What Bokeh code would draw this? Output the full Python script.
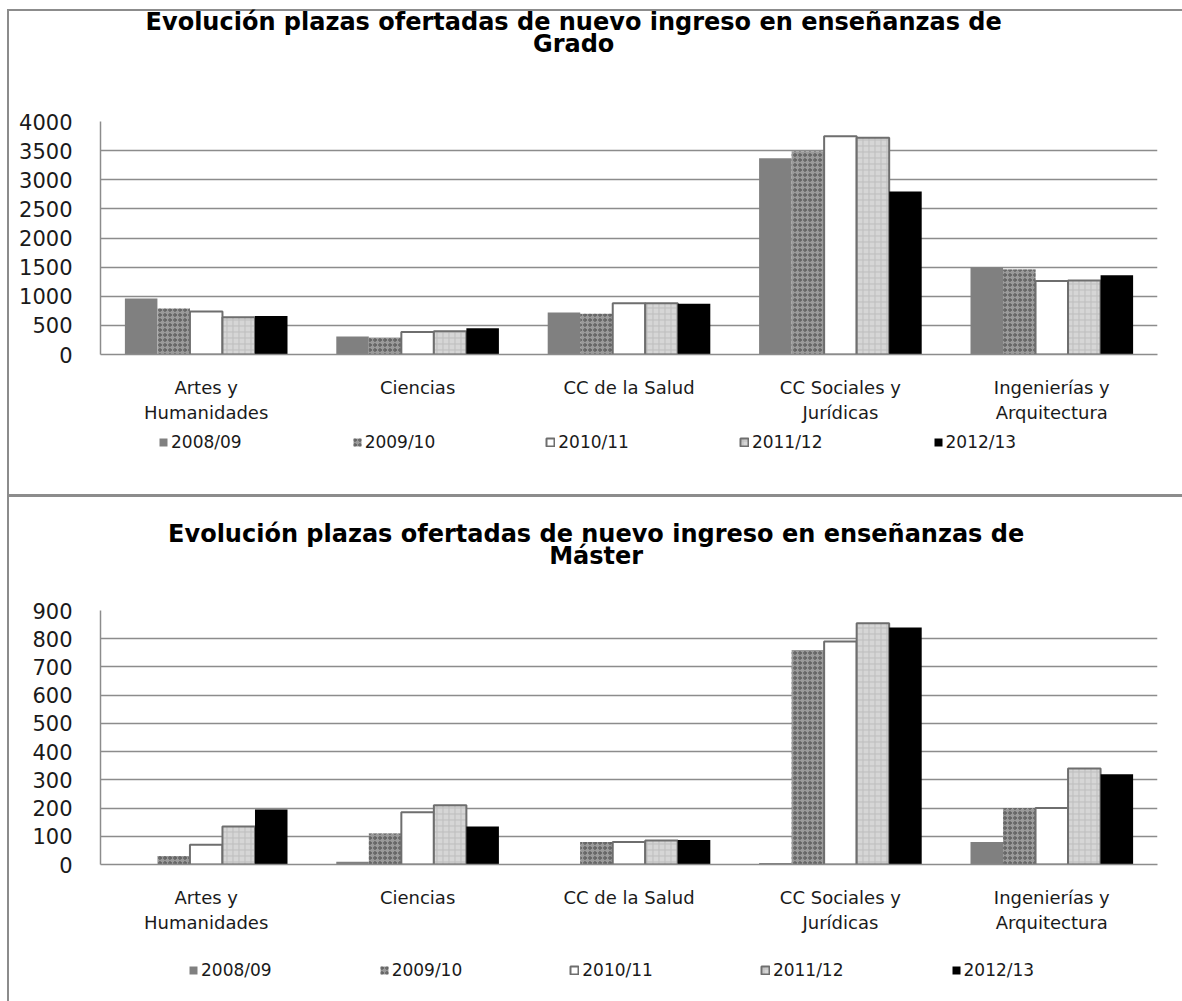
from bokeh.plotting import figure
from bokeh.models import (ColumnDataSource, FactorRange, Legend, LegendItem, Label,
                          SingleIntervalTicker, Range1d)
from bokeh.transform import dodge
from bokeh.layouts import column
from bokeh.embed import file_html
from bokeh.resources import INLINE

categories = ["Artes y\nHumanidades", "Ciencias", "CC de la Salud",
              "CC Sociales y\nJurídicas", "Ingenierías y\nArquitectura"]
years = ["2008/09", "2009/10", "2010/11", "2011/12", "2012/13"]

grado_2008 = [960, 310, 720, 3370, 1500]
grado_2009 = [790, 290, 700, 3490, 1460]
grado_2010 = [740, 385, 880, 3745, 1260]
grado_2011 = [640, 400, 880, 3720, 1270]
grado_2012 = [660, 450, 870, 2800, 1360]

master_2008 = [0, 10, 0, 5, 80]
master_2009 = [30, 110, 80, 760, 200]
master_2010 = [70, 185, 80, 790, 200]
master_2011 = [135, 210, 85, 855, 340]
master_2012 = [195, 135, 87, 840, 320]

title_grado = "Evolución plazas ofertadas de nuevo ingreso en enseñanzas de\nGrado"
title_master = "Evolución plazas ofertadas de nuevo ingreso en enseñanzas de\nMáster"

FONT = "DejaVu Sans"
GRID = "#8c8c8c"
W = 1175
STYLES = [
    dict(fill_color="#808080", line_color=None),
    dict(fill_color="#9a9a9a", line_color=None, hatch_pattern="ring",
         hatch_color="#4e4e4e", hatch_scale=5, hatch_weight=1),
    dict(fill_color="white", line_color="#6e6e6e", line_width=2),
    dict(fill_color="#d6d6d6", line_color="#6e6e6e", line_width=2, hatch_pattern="cross",
         hatch_color="#bdbdbd", hatch_scale=6, hatch_weight=1),
    dict(fill_color="black", line_color=None),
]
LINE = "linear-gradient(#8c8c8c,#8c8c8c)"


def strip(height):
    s = figure(width=W, height=height, x_range=Range1d(0, W), y_range=Range1d(0, height),
               output_backend="svg", toolbar_location=None, title=None,
               x_axis_type=None, y_axis_type=None, min_border=0,
               border_fill_color=None, background_fill_color=None,
               outline_line_color=None)
    s.grid.visible = False
    return s


def title_strip(text, height, tx, ty):
    t = strip(height)
    t.add_layout(Label(x=tx, y=ty, text=text, text_align="center", text_baseline="top",
                       text_font=FONT, text_font_style="bold", text_font_size="24px",
                       text_line_height=0.8, text_color="black"))
    return t


def legend_strip(height, lx, ly, spacing):
    s = strip(height)
    # zero-size proxy glyphs that only carry the legend swatch styles
    rs = [s.vbar(x=[0], top=[0], width=0, **st) for st in STYLES]
    legend = Legend(items=[LegendItem(label=y, renderers=[r], index=0)
                           for y, r in zip(years, rs)],
                    orientation="horizontal", location=(lx, ly), spacing=spacing,
                    glyph_width=10, glyph_height=10, label_standoff=3, padding=0, margin=0,
                    border_line_color=None, background_fill_alpha=0,
                    label_text_font=FONT, label_text_font_size="17px",
                    label_text_color="#1a1a1a")
    s.add_layout(legend)
    return s


def make_chart(series, ymax, ystep, height, left, top, bottom):
    data = {"cat": categories}
    for y, s in zip(years, series):
        data[y] = s
    src = ColumnDataSource(data)
    p = figure(x_range=FactorRange(*categories), y_range=(0, ymax),
               width=W, height=height, output_backend="svg", toolbar_location=None,
               title=None, min_border_left=left, min_border_right=25,
               min_border_top=top, min_border_bottom=bottom,
               border_fill_color=None, background_fill_color="white",
               outline_line_color=None)
    p.x_range.range_padding = 0
    p.x_range.factor_padding = 0
    w = 1 / 6.5
    for i, y in enumerate(years):
        p.vbar(x=dodge("cat", (i - 2) * w, range=p.x_range), top=y, width=w,
               source=src, **STYLES[i])

    p.yaxis.ticker = SingleIntervalTicker(interval=ystep)
    p.ygrid.ticker = SingleIntervalTicker(interval=ystep)
    p.xgrid.grid_line_color = None
    p.ygrid.grid_line_color = GRID
    p.ygrid.grid_line_width = 1.5
    for ax in (p.xaxis[0], p.yaxis[0]):
        ax.axis_line_color = GRID
        ax.axis_line_width = 1.5
        ax.major_tick_line_color = None
        ax.minor_tick_line_color = None
        ax.major_label_text_font = FONT
        ax.major_label_text_color = "#1a1a1a"
    p.yaxis.major_label_text_font_size = "21px"
    p.yaxis.major_label_standoff = 22
    p.xaxis.major_label_text_font_size = "18px"
    p.xaxis.major_label_standoff = 16
    return p


# top chart (Grado)
t1 = title_strip(title_grado, 112, 526, 105)
t1.styles = {"background": f"{LINE} 0 9px / 100% 2px no-repeat, {LINE} 0 9px / 2px 100% no-repeat"}
p1 = make_chart([grado_2008, grado_2009, grado_2010, grado_2011, grado_2012],
                4000, 500, 313, 93, 9, 69)
p1.styles = {"box-shadow": "inset 2px 0 0 #8c8c8c"}
l1 = legend_strip(72, 58, 45, 110)
l1.styles = {"box-shadow": "inset 2px 0 0 #8c8c8c, inset 0 -3px 0 #8c8c8c"}

# bottom chart (Máster)
t2 = title_strip(title_master, 103, 551, 81)
t2.styles = {"box-shadow": "inset 2px 0 0 #8c8c8c"}
p2 = make_chart([master_2008, master_2009, master_2010, master_2011, master_2012],
                900, 100, 335, 80, 10, 70)
p2.styles = {"box-shadow": "inset 2px 0 0 #8c8c8c"}
l2 = legend_strip(66, 88, 21, 107)
l2.styles = {"box-shadow": "inset 2px 0 0 #8c8c8c"}

for f in (t1, p1, l1, t2, p2, l2):
    f.margin = (0, 0, 0, 7)

layout = column(t1, p1, l1, t2, p2, l2, spacing=0)
open("out.html", "w").write(file_html(layout, INLINE))
